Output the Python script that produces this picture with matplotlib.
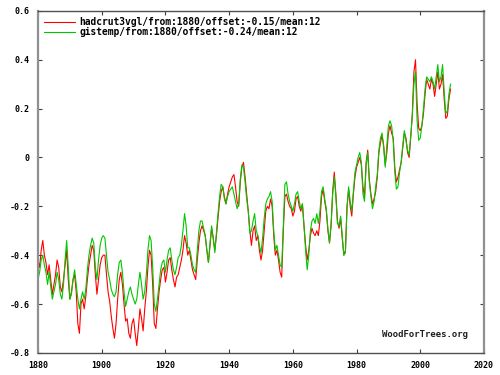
import matplotlib
matplotlib.use('Agg')
import matplotlib.pyplot as plt
import numpy as np

# half-yearly samples of the 12 month means, 1880.0 .. 2009.5
years = np.arange(1880, 2010, 0.5)

hadcrut = [
    # 1880s
    -0.42, -0.45, -0.38, -0.34, -0.40, -0.43, -0.48, -0.44, -0.50, -0.56,
    -0.52, -0.48, -0.42, -0.45, -0.53, -0.55, -0.50, -0.44, -0.38, -0.50,
    # 1890s
    -0.58, -0.55, -0.50, -0.48, -0.55, -0.68, -0.72, -0.60, -0.58, -0.62,
    -0.57, -0.50, -0.44, -0.40, -0.36, -0.38, -0.48, -0.56, -0.50, -0.44,
    # 1900s
    -0.41, -0.40, -0.40, -0.48, -0.55, -0.59, -0.65, -0.70, -0.74, -0.68,
    -0.58, -0.50, -0.47, -0.52, -0.60, -0.67, -0.66, -0.72, -0.74, -0.68,
    # 1910s
    -0.66, -0.72, -0.77, -0.70, -0.62, -0.66, -0.71, -0.62, -0.55, -0.45,
    -0.38, -0.40, -0.52, -0.68, -0.70, -0.62, -0.55, -0.50, -0.46, -0.45,
    # 1920s
    -0.51, -0.47, -0.42, -0.41, -0.46, -0.50, -0.53, -0.49, -0.48, -0.45,
    -0.42, -0.38, -0.32, -0.35, -0.40, -0.38, -0.42, -0.46, -0.48, -0.50,
    # 1930s
    -0.42, -0.35, -0.30, -0.28, -0.30, -0.32, -0.38, -0.43, -0.36, -0.29,
    -0.33, -0.38, -0.32, -0.25, -0.18, -0.14, -0.12, -0.16, -0.19, -0.15,
    # 1940s
    -0.12, -0.10, -0.08, -0.07, -0.12, -0.18, -0.20, -0.10, -0.04, -0.02,
    -0.08, -0.15, -0.22, -0.30, -0.36, -0.30, -0.28, -0.34, -0.32, -0.38,
    # 1950s
    -0.42, -0.38, -0.30, -0.22, -0.20, -0.21, -0.17, -0.20, -0.32, -0.40,
    -0.38, -0.42, -0.47, -0.49, -0.30, -0.16, -0.15, -0.18, -0.20, -0.21,
    # 1960s
    -0.24, -0.22, -0.17, -0.16, -0.20, -0.22, -0.19, -0.28, -0.36, -0.42,
    -0.38, -0.32, -0.29, -0.31, -0.32, -0.30, -0.32, -0.26, -0.16, -0.13,
    # 1970s
    -0.18, -0.22, -0.30, -0.35, -0.28, -0.14, -0.06, -0.15, -0.26, -0.29,
    -0.25, -0.33, -0.40, -0.38, -0.20, -0.13, -0.20, -0.24, -0.15, -0.08,
    # 1980s
    -0.04, -0.02, 0.00, -0.03, -0.12, -0.16, -0.02, 0.03, -0.09, -0.15,
    -0.19, -0.17, -0.14, -0.08, 0.02, 0.06, 0.09, 0.05, -0.03, 0.02,
    # 1990s
    0.10, 0.13, 0.10, 0.08, -0.04, -0.10, -0.08, -0.05, -0.02, 0.04,
    0.10, 0.08, 0.02, 0.00, 0.08, 0.18, 0.35, 0.40, 0.22, 0.12,
    # 2000s
    0.11, 0.13, 0.18, 0.26, 0.32, 0.30, 0.28, 0.32, 0.30, 0.25,
    0.30, 0.35, 0.28, 0.30, 0.34, 0.24, 0.16, 0.17, 0.24, 0.28,
]

gistemp = [
    # 1880s
    -0.50, -0.47, -0.42, -0.40, -0.44, -0.47, -0.52, -0.47, -0.53, -0.58,
    -0.55, -0.52, -0.47, -0.50, -0.56, -0.58, -0.52, -0.42, -0.34, -0.45,
    # 1890s
    -0.58, -0.56, -0.50, -0.46, -0.52, -0.58, -0.62, -0.58, -0.55, -0.58,
    -0.54, -0.46, -0.40, -0.36, -0.33, -0.35, -0.45, -0.50, -0.42, -0.36,
    # 1900s
    -0.33, -0.32, -0.33, -0.40, -0.47, -0.50, -0.54, -0.56, -0.57, -0.55,
    -0.48, -0.43, -0.42, -0.47, -0.55, -0.61, -0.58, -0.55, -0.53, -0.56,
    # 1910s
    -0.58, -0.60, -0.58, -0.52, -0.47, -0.52, -0.58, -0.55, -0.48, -0.38,
    -0.32, -0.34, -0.45, -0.60, -0.63, -0.58, -0.52, -0.46, -0.43, -0.42,
    # 1920s
    -0.47, -0.42, -0.38, -0.37, -0.42, -0.46, -0.48, -0.45, -0.41, -0.40,
    -0.36, -0.30, -0.23, -0.28, -0.37, -0.37, -0.40, -0.44, -0.46, -0.47,
    # 1930s
    -0.38, -0.30, -0.26, -0.26, -0.29, -0.32, -0.38, -0.43, -0.35, -0.28,
    -0.33, -0.39, -0.31, -0.23, -0.16, -0.11, -0.12, -0.17, -0.19, -0.16,
    # 1940s
    -0.14, -0.13, -0.12, -0.15, -0.18, -0.21, -0.19, -0.09, -0.03, -0.04,
    -0.10, -0.17, -0.22, -0.31, -0.30, -0.26, -0.23, -0.30, -0.32, -0.36,
    # 1950s
    -0.39, -0.33, -0.25, -0.19, -0.17, -0.16, -0.14, -0.18, -0.30, -0.38,
    -0.36, -0.40, -0.44, -0.45, -0.28, -0.11, -0.10, -0.15, -0.18, -0.20,
    # 1960s
    -0.22, -0.19, -0.15, -0.14, -0.18, -0.21, -0.19, -0.28, -0.38, -0.46,
    -0.40, -0.30, -0.26, -0.25, -0.27, -0.23, -0.27, -0.22, -0.14, -0.12,
    # 1970s
    -0.17, -0.21, -0.29, -0.35, -0.27, -0.15, -0.08, -0.16, -0.27, -0.28,
    -0.24, -0.32, -0.40, -0.39, -0.21, -0.12, -0.18, -0.22, -0.14, -0.06,
    # 1980s
    -0.03, 0.00, 0.02, -0.02, -0.15, -0.18, -0.03, 0.02, -0.10, -0.16,
    -0.21, -0.18, -0.12, -0.07, 0.03, 0.08, 0.10, 0.04, -0.04, 0.05,
    # 1990s
    0.13, 0.15, 0.13, 0.07, -0.06, -0.13, -0.12, -0.06, -0.02, 0.05,
    0.11, 0.07, 0.03, 0.01, 0.09, 0.17, 0.30, 0.35, 0.15, 0.07,
    # 2000s
    0.08, 0.13, 0.20, 0.28, 0.33, 0.32, 0.31, 0.33, 0.31, 0.28,
    0.33, 0.38, 0.31, 0.33, 0.38, 0.27, 0.18, 0.19, 0.26, 0.30,
]

labels = ['hadcrut3vgl/from:1880/offset:-0.15/mean:12',
          'gistemp/from:1880/offset:-0.24/mean:12']
xticks = [1880, 1900, 1920, 1940, 1960, 1980, 2000, 2020]
yticks = [-0.8, -0.6, -0.4, -0.2, 0, 0.2, 0.4, 0.6]
ytick_labels = ['-0.8', '-0.6', '-0.4', '-0.2', '0', '0.2', '0.4', '0.6']

mono = 'DejaVu Sans Mono'

fig = plt.figure(figsize=(5, 3.75), dpi=100)
ax = fig.add_axes([0.076, 0.059, 0.892, 0.912])

ax.plot(years, hadcrut, color='#ff0000', lw=0.8, label=labels[0])
ax.plot(years, gistemp, color='#00c800', lw=0.8, label=labels[1])

ax.set_xlim(1880, 2020)
ax.set_ylim(-0.8, 0.6)
ax.set_xticks(xticks)
ax.set_xticklabels([str(x) for x in xticks])
ax.set_yticks(yticks)
ax.set_yticklabels(ytick_labels)

ax.tick_params(direction='in', length=3, width=0.8, color='#404040',
               top=True, right=True, labelsize=6, pad=6)
for lab in ax.get_xticklabels() + ax.get_yticklabels():
    lab.set_fontfamily(mono)
    lab.set_fontweight('bold')

for side in ['left', 'right']:
    ax.spines[side].set_color('#909090')
    ax.spines[side].set_linewidth(1.6)
for side in ['top', 'bottom']:
    ax.spines[side].set_color('#505050')
    ax.spines[side].set_linewidth(1.0)

leg = ax.legend(loc='upper left', frameon=False, handlelength=3.2,
                handletextpad=0.5, borderaxespad=0.15, borderpad=0.5,
                labelspacing=0.0,
                prop={'family': mono, 'weight': 'bold', 'size': 6.9})

ax.text(0.965, 0.055, 'WoodForTrees.org', transform=ax.transAxes,
        ha='right', va='center', fontsize=6.5, family=mono,
        fontweight='bold', color='#202020')

fig.savefig('out.png', dpi=100)
